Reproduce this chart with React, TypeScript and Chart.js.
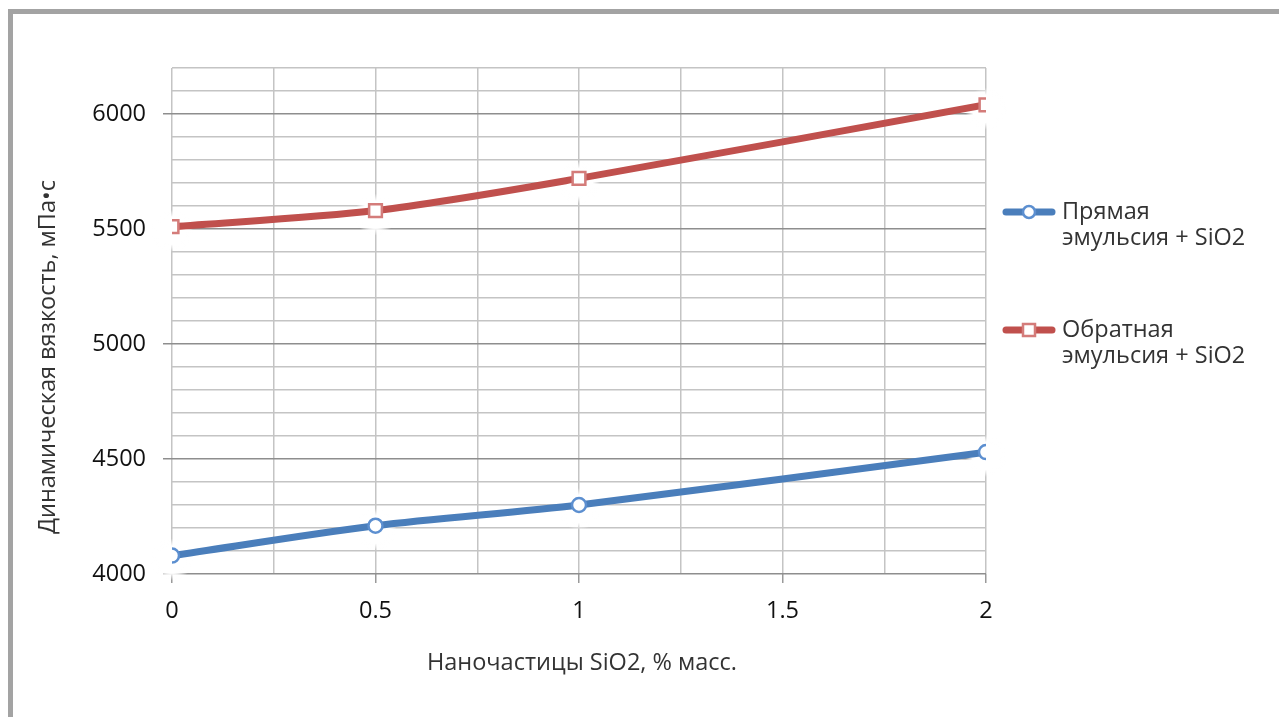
import React, { useEffect, useRef } from "react";
import { Chart, registerables } from "chart.js";

Chart.register(...registerables);

// Mass fraction of SiO2 nanoparticles, %
const silicaContent = [0, 0.5, 1, 2];
// Dynamic viscosity, mPa·s
const directEmulsion = [4080, 4210, 4300, 4530];
const inverseEmulsion = [5510, 5580, 5720, 6040];

const seriesNames = [
  ["Прямая", "эмульсия + SiO2"],
  ["Обратная", "эмульсия + SiO2"],
];
const xTitle = "Наночастицы SiO2, % масс.";
const yTitle = "Динамическая вязкость, мПа•с";

const FONT = "'Open Sans', 'Noto Sans', sans-serif";
const BLUE = "#4a7ebb";
const RED = "#c0504d";

const isMultiple = (v: number, step: number) =>
  Math.abs(v / step - Math.round(v / step)) < 1e-6;

// White glow behind the markers, like the soft marker shadow of office charts
const markerHalo = {
  id: "markerHalo",
  beforeDatasetsDraw(chart: any) {
    const ctx = chart.ctx;
    ctx.save();
    chart.data.datasets.forEach((_: any, i: number) => {
      const meta = chart.getDatasetMeta(i);
      meta.data.forEach((pt: any) => {
        const cx = pt.x;
        const cy = pt.y + 4;
        const g = ctx.createRadialGradient(cx, cy, 0, cx, cy, 21);
        g.addColorStop(0, "rgba(255,255,255,1)");
        g.addColorStop(0.65, "rgba(255,255,255,1)");
        g.addColorStop(1, "rgba(255,255,255,0)");
        ctx.fillStyle = g;
        ctx.fillRect(cx - 21, cy - 21, 42, 42);
      });
    });
    ctx.restore();
  },
};

// Frame, axis titles and the legend on the right
const decorations = {
  id: "decorations",
  afterDraw(chart: any) {
    const ctx = chart.ctx;
    const area = chart.chartArea;
    ctx.save();

    ctx.fillStyle = "#a3a3a3";
    ctx.fillRect(8, 9, 5, chart.height);
    ctx.fillRect(8, 9, chart.width, 5);

    ctx.fillStyle = "#333333";
    ctx.font = `23.5px ${FONT}`;
    ctx.textAlign = "center";
    ctx.textBaseline = "middle";
    ctx.fillText(xTitle, (area.left + area.right) / 2 + 3, 663);

    ctx.save();
    ctx.translate(48, 357);
    ctx.rotate(-Math.PI / 2);
    ctx.fillText(yTitle, 0, 0);
    ctx.restore();

    const rows = [212, 330];
    chart.data.datasets.forEach((ds: any, i: number) => {
      const y = rows[i];
      ctx.strokeStyle = ds.borderColor;
      ctx.lineWidth = 7;
      ctx.lineCap = "round";
      ctx.beginPath();
      ctx.moveTo(1006, y);
      ctx.lineTo(1052, y);
      ctx.stroke();
      ctx.fillStyle = "#ffffff";
      ctx.strokeStyle = ds.pointBorderColor;
      ctx.lineWidth = 2.5;
      ctx.beginPath();
      if (ds.pointStyle === "rect") {
        ctx.rect(1023, y - 6, 12, 12);
      } else {
        ctx.arc(1029, y, 6, 0, Math.PI * 2);
      }
      ctx.fill();
      ctx.stroke();

      ctx.fillStyle = "#333333";
      ctx.font = `23.5px ${FONT}`;
      ctx.textAlign = "left";
      ctx.textBaseline = "middle";
      seriesNames[i].forEach((line, k) => {
        ctx.fillText(line, 1062, y + k * 26);
      });
    });
    ctx.restore();
  },
};

export default function App() {
  const canvasRef = useRef<HTMLCanvasElement | null>(null);

  useEffect(() => {
    const canvas = canvasRef.current;
    if (!canvas) return;
    const chart = new Chart(canvas, {
      type: "line",
      data: {
        datasets: [
          {
            label: seriesNames[0].join(" "),
            data: silicaContent.map((x, i) => ({ x, y: directEmulsion[i] })),
            borderColor: BLUE,
            borderWidth: 7,
            tension: 0.3,
            pointStyle: "circle",
            pointRadius: 7,
            pointBackgroundColor: "#ffffff",
            pointBorderColor: "#5c8fd0",
            pointBorderWidth: 2.5,
          },
          {
            label: seriesNames[1].join(" "),
            data: silicaContent.map((x, i) => ({ x, y: inverseEmulsion[i] })),
            borderColor: RED,
            borderWidth: 7,
            tension: 0.3,
            pointStyle: "rect",
            pointRadius: 9,
            pointBackgroundColor: "#ffffff",
            pointBorderColor: "#d47c7a",
            pointBorderWidth: 2.5,
          },
        ],
      },
      options: {
        animation: false,
        responsive: false,
        maintainAspectRatio: false,
        layout: { padding: { left: 0, top: 68, right: 293, bottom: 0 } },
        plugins: {
          legend: { display: false },
          tooltip: { enabled: false },
        },
        scales: {
          x: {
            type: "linear",
            min: 0,
            max: 2,
            afterFit: (s: any) => {
              s.height = 143;
            },
            border: { display: false },
            grid: {
              color: "#c4c4c4",
              lineWidth: 1.5,
              tickLength: 9,
              tickColor: (c: any) =>
                c.tick && isMultiple(c.tick.value, 0.5) ? "#9a9a9a" : "rgba(0,0,0,0)",
            },
            ticks: {
              stepSize: 0.25,
              padding: 14,
              color: "#111111",
              font: { family: FONT, size: 23.5 },
              maxRotation: 0,
              autoSkip: false,
              callback: (v: any) => (isMultiple(Number(v), 0.5) ? String(v) : ""),
            },
          },
          y: {
            type: "linear",
            min: 4000,
            max: 6200,
            afterFit: (s: any) => {
              s.width = 172;
            },
            border: { display: false },
            grid: {
              color: (c: any) =>
                c.tick && isMultiple(c.tick.value, 500) ? "#8e8e8e" : "#c4c4c4",
              lineWidth: 1.5,
              tickLength: 9,
              tickColor: (c: any) =>
                c.tick && isMultiple(c.tick.value, 500) ? "#8e8e8e" : "rgba(0,0,0,0)",
            },
            ticks: {
              stepSize: 100,
              padding: 17,
              color: "#111111",
              font: { family: FONT, size: 23.5 },
              autoSkip: false,
              callback: (v: any) => (isMultiple(Number(v), 500) ? String(v) : ""),
            },
          },
        },
      },
      plugins: [markerHalo, decorations],
    });
    return () => chart.destroy();
  }, []);

  return (
    <div
      style={{
        position: "fixed",
        left: 0,
        top: 0,
        width: 1279,
        height: 717,
        background: "#ffffff",
      }}
    >
      <canvas ref={canvasRef} width={1279} height={717} style={{ display: "block" }} />
    </div>
  );
}
